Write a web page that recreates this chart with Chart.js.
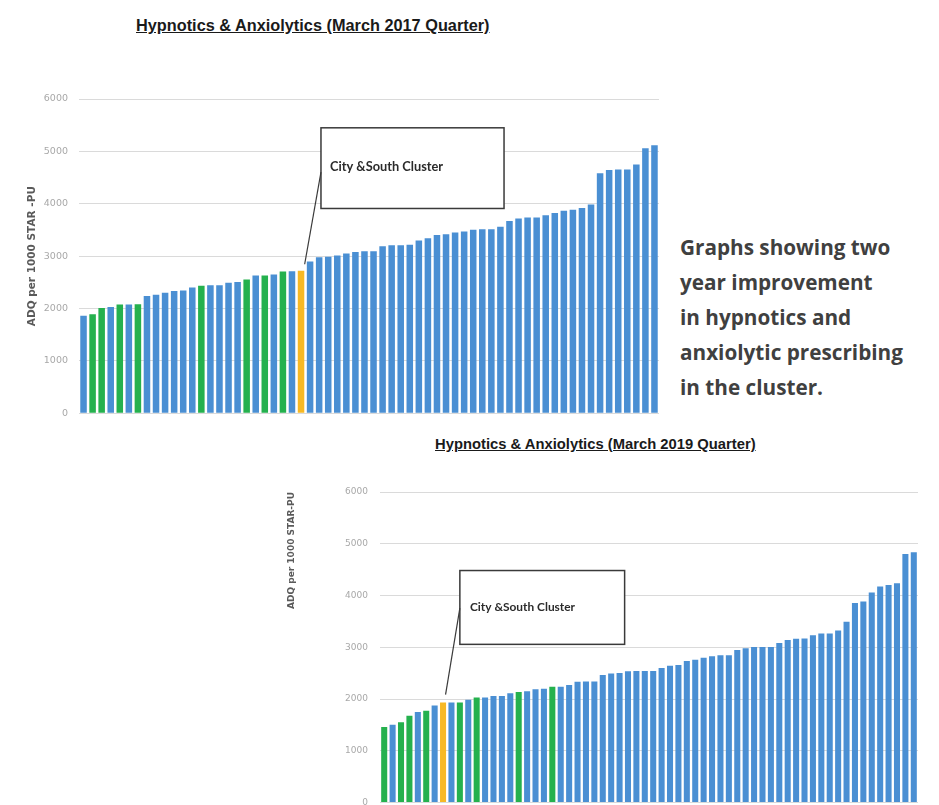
<!DOCTYPE html>
<html><head><meta charset="utf-8">
<script src="https://cdn.jsdelivr.net/npm/chart.js@4.4.1/dist/chart.umd.min.js"></script>
<style>
html,body{margin:0;padding:0;background:#fff;width:939px;height:805px;overflow:hidden;position:relative;}
.title{position:absolute;font-family:"Liberation Sans",Arial,sans-serif;font-weight:700;color:#1a1a1a;text-decoration:underline;white-space:nowrap;}
#t1{left:136px;top:16px;font-size:14px;}
#t2{left:435px;top:436px;font-size:13px;}
#note{position:absolute;left:680px;top:230px;font-family:"Open Sans",sans-serif;font-weight:700;font-size:19px;line-height:35px;color:#404040;white-space:nowrap;}
#note span{display:inline-block;}
canvas{position:absolute;}
#c1{left:0;top:80px;}
#c2{left:260px;top:440px;}
</style>
</head><body>
<div class="title" id="t1">Hypnotics &amp; Anxiolytics (March 2017 Quarter)</div>
<div class="title" id="t2">Hypnotics &amp; Anxiolytics (March 2019 Quarter)</div>
<div id="note"><span>Graphs showing two</span><br><span>year improvement</span><br><span>in hypnotics and</span><br><span id="longest">anxiolytic prescribing</span><br><span>in the cluster.</span></div>
<canvas id="c1" width="670" height="350"></canvas>
<canvas id="c2" width="679" height="380"></canvas>
<script>
// ---- data ----
const practices = Array.from({length: 64}, (_, i) => 'Practice ' + (i + 1));
const yTicks = [0, 1000, 2000, 3000, 4000, 5000, 6000];

const adq2017 = [1860,1890,2010,2030,2075,2078,2080,2237,2262,2300,
                 2337,2344,2400,2437,2444,2444,2494,2506,2556,2631,
                 2631,2650,2706,2712,2720,2900,2981,2987,3012,3050,
                 3081,3094,3094,3187,3206,3206,3219,3300,3344,3406,
                 3419,3450,3469,3506,3512,3512,3562,3669,3719,3737,
                 3737,3781,3825,3869,3887,3919,3987,4581,4644,4656,
                 4656,4750,5062,5119];
const cluster2017 = [2,3,5,7,14,19,21,23];   // ranks of cluster practices
const clusterAvg2017 = 25;                   // rank of City & South Cluster bar

const adq2019 = [1458,1503,1553,1680,1750,1775,1877,1934,1934,1934,
                 1985,2029,2029,2061,2061,2112,2137,2150,2188,2200,
                 2238,2238,2270,2334,2340,2340,2465,2492,2505,2536,
                 2543,2543,2543,2600,2644,2657,2733,2758,2796,2828,
                 2847,2847,2949,2980,3006,3006,3006,3082,3139,3164,
                 3170,3234,3266,3266,3323,3494,3855,3887,4058,4173,
                 4204,4236,4800,4838];
const cluster2019 = [1,3,4,6,10,12,17,21];
const clusterAvg2019 = 8;

const calloutLabel = 'City &South Cluster';

// ---- fit html text widths to the reference layout ----
function fitWidth(el, target) {
  const w = el.getBoundingClientRect().width;
  const fs = parseFloat(getComputedStyle(el).fontSize);
  return fs * target / w;
}
(function () {
  const t1 = document.getElementById('t1'), t2 = document.getElementById('t2');
  t1.style.fontSize = fitWidth(t1, 354) + 'px';
  t2.style.fontSize = fitWidth(t2, 321) + 'px';
  const note = document.getElementById('note');
  note.style.fontSize = fitWidth(document.getElementById('longest'), 223) + 'px';
})();

// ---- styling ----
const BLUE = '#4a8fd3', GREEN = '#25b14e', YELLOW = '#f7b925';
function barColors(n, greens, yellow) {
  return Array.from({length: n}, (_, i) => {
    const r = i + 1;
    if (r === yellow) return YELLOW;
    if (greens.includes(r)) return GREEN;
    return BLUE;
  });
}

const calloutPlugin = {
  id: 'callout',
  afterDatasetsDraw(chart, args, o) {
    if (!o || !o.box) return;
    const xs = chart.scales.x, ys = chart.scales.y, ctx = chart.ctx;
    const x1 = xs.getPixelForValue(o.box[0]), x2 = xs.getPixelForValue(o.box[1]);
    const y1 = ys.getPixelForValue(o.box[2]), y2 = ys.getPixelForValue(o.box[3]);
    ctx.save();
    ctx.fillStyle = '#ffffff';
    ctx.fillRect(x1, y1, x2 - x1, y2 - y1);
    ctx.strokeStyle = '#3a3a3a';
    ctx.lineWidth = 1.5;
    ctx.strokeRect(x1, y1, x2 - x1, y2 - y1);
    ctx.beginPath();
    ctx.lineWidth = 1.2;
    ctx.moveTo(x1, ys.getPixelForValue(o.lineFrom));
    ctx.lineTo(xs.getPixelForValue(o.lineTo[0]), ys.getPixelForValue(o.lineTo[1]));
    ctx.stroke();
    ctx.fillStyle = '#2b2b2b';
    ctx.font = 'bold ' + o.fontSize + 'px Lato, "Liberation Sans", sans-serif';
    ctx.textBaseline = 'middle';
    ctx.fillText(o.text, xs.getPixelForValue(o.textAt[0]), ys.getPixelForValue(o.textAt[1]));
    ctx.restore();
  }
};

function makeChart(id, values, greens, yellow, cfg) {
  return new Chart(document.getElementById(id), {
    type: 'bar',
    data: {
      labels: practices,
      datasets: [{
        data: values,
        backgroundColor: barColors(values.length, greens, yellow),
        barPercentage: 0.72,
        categoryPercentage: 1.0
      }]
    },
    plugins: [calloutPlugin],
    options: {
      responsive: false,
      animation: false,
      layout: {padding: cfg.padding},
      plugins: {
        legend: {display: false},
        tooltip: {enabled: false},
        callout: cfg.callout
      },
      scales: {
        x: {
          ticks: {display: false},
          grid: {display: false, drawTicks: false},
          border: {display: false}
        },
        y: {
          min: yTicks[0], max: yTicks[yTicks.length - 1],
          afterBuildTicks(s) { s.ticks = yTicks.map(v => ({value: v})); },
          afterFit(s) { s.width = cfg.axisWidth; },
          ticks: {
            padding: cfg.tickPad, color: '#a8a8a8',
            font: {size: cfg.tickSize, family: '"DejaVu Sans"'},
            callback: v => String(v)
          },
          grid: {color: '#dadada', lineWidth: 1, drawTicks: false},
          border: {display: false},
          title: {
            display: true, text: cfg.yTitle, align: cfg.titleAlign,
            color: '#5a5a5a', font: {size: cfg.titleSize, weight: 'bold', family: '"DejaVu Sans"'},
            padding: {top: 26, bottom: 0}
          }
        }
      }
    }
  });
}

makeChart('c1', adq2017, cluster2017, clusterAvg2017, {
  padding: {left: 0, right: 11, top: 19, bottom: 12},
  axisWidth: 79, tickPad: 11, tickSize: 9.5, titleSize: 10.5,
  yTitle: 'ADQ per 1000 STAR -PU', titleAlign: 'center',
  callout: {box: [26.2, 46.4, 5450, 3910], lineFrom: 4605, lineTo: [24.4, 2845],
            text: calloutLabel, textAt: [27.2, 4700], fontSize: 12.8}
});

makeChart('c2', adq2019, cluster2019, clusterAvg2019, {
  padding: {left: 0, right: 21, top: 52, bottom: 12.5},
  axisWidth: 120, tickPad: 12, tickSize: 9, titleSize: 9,
  yTitle: 'ADQ per 1000 STAR-PU', titleAlign: 'end',
  callout: {box: [9.0, 28.6, 4483, 3057], lineFrom: 3755, lineTo: [7.3, 2087],
            text: calloutLabel, textAt: [10.2, 3774], fontSize: 11.9}
});
</script>
</body></html>
